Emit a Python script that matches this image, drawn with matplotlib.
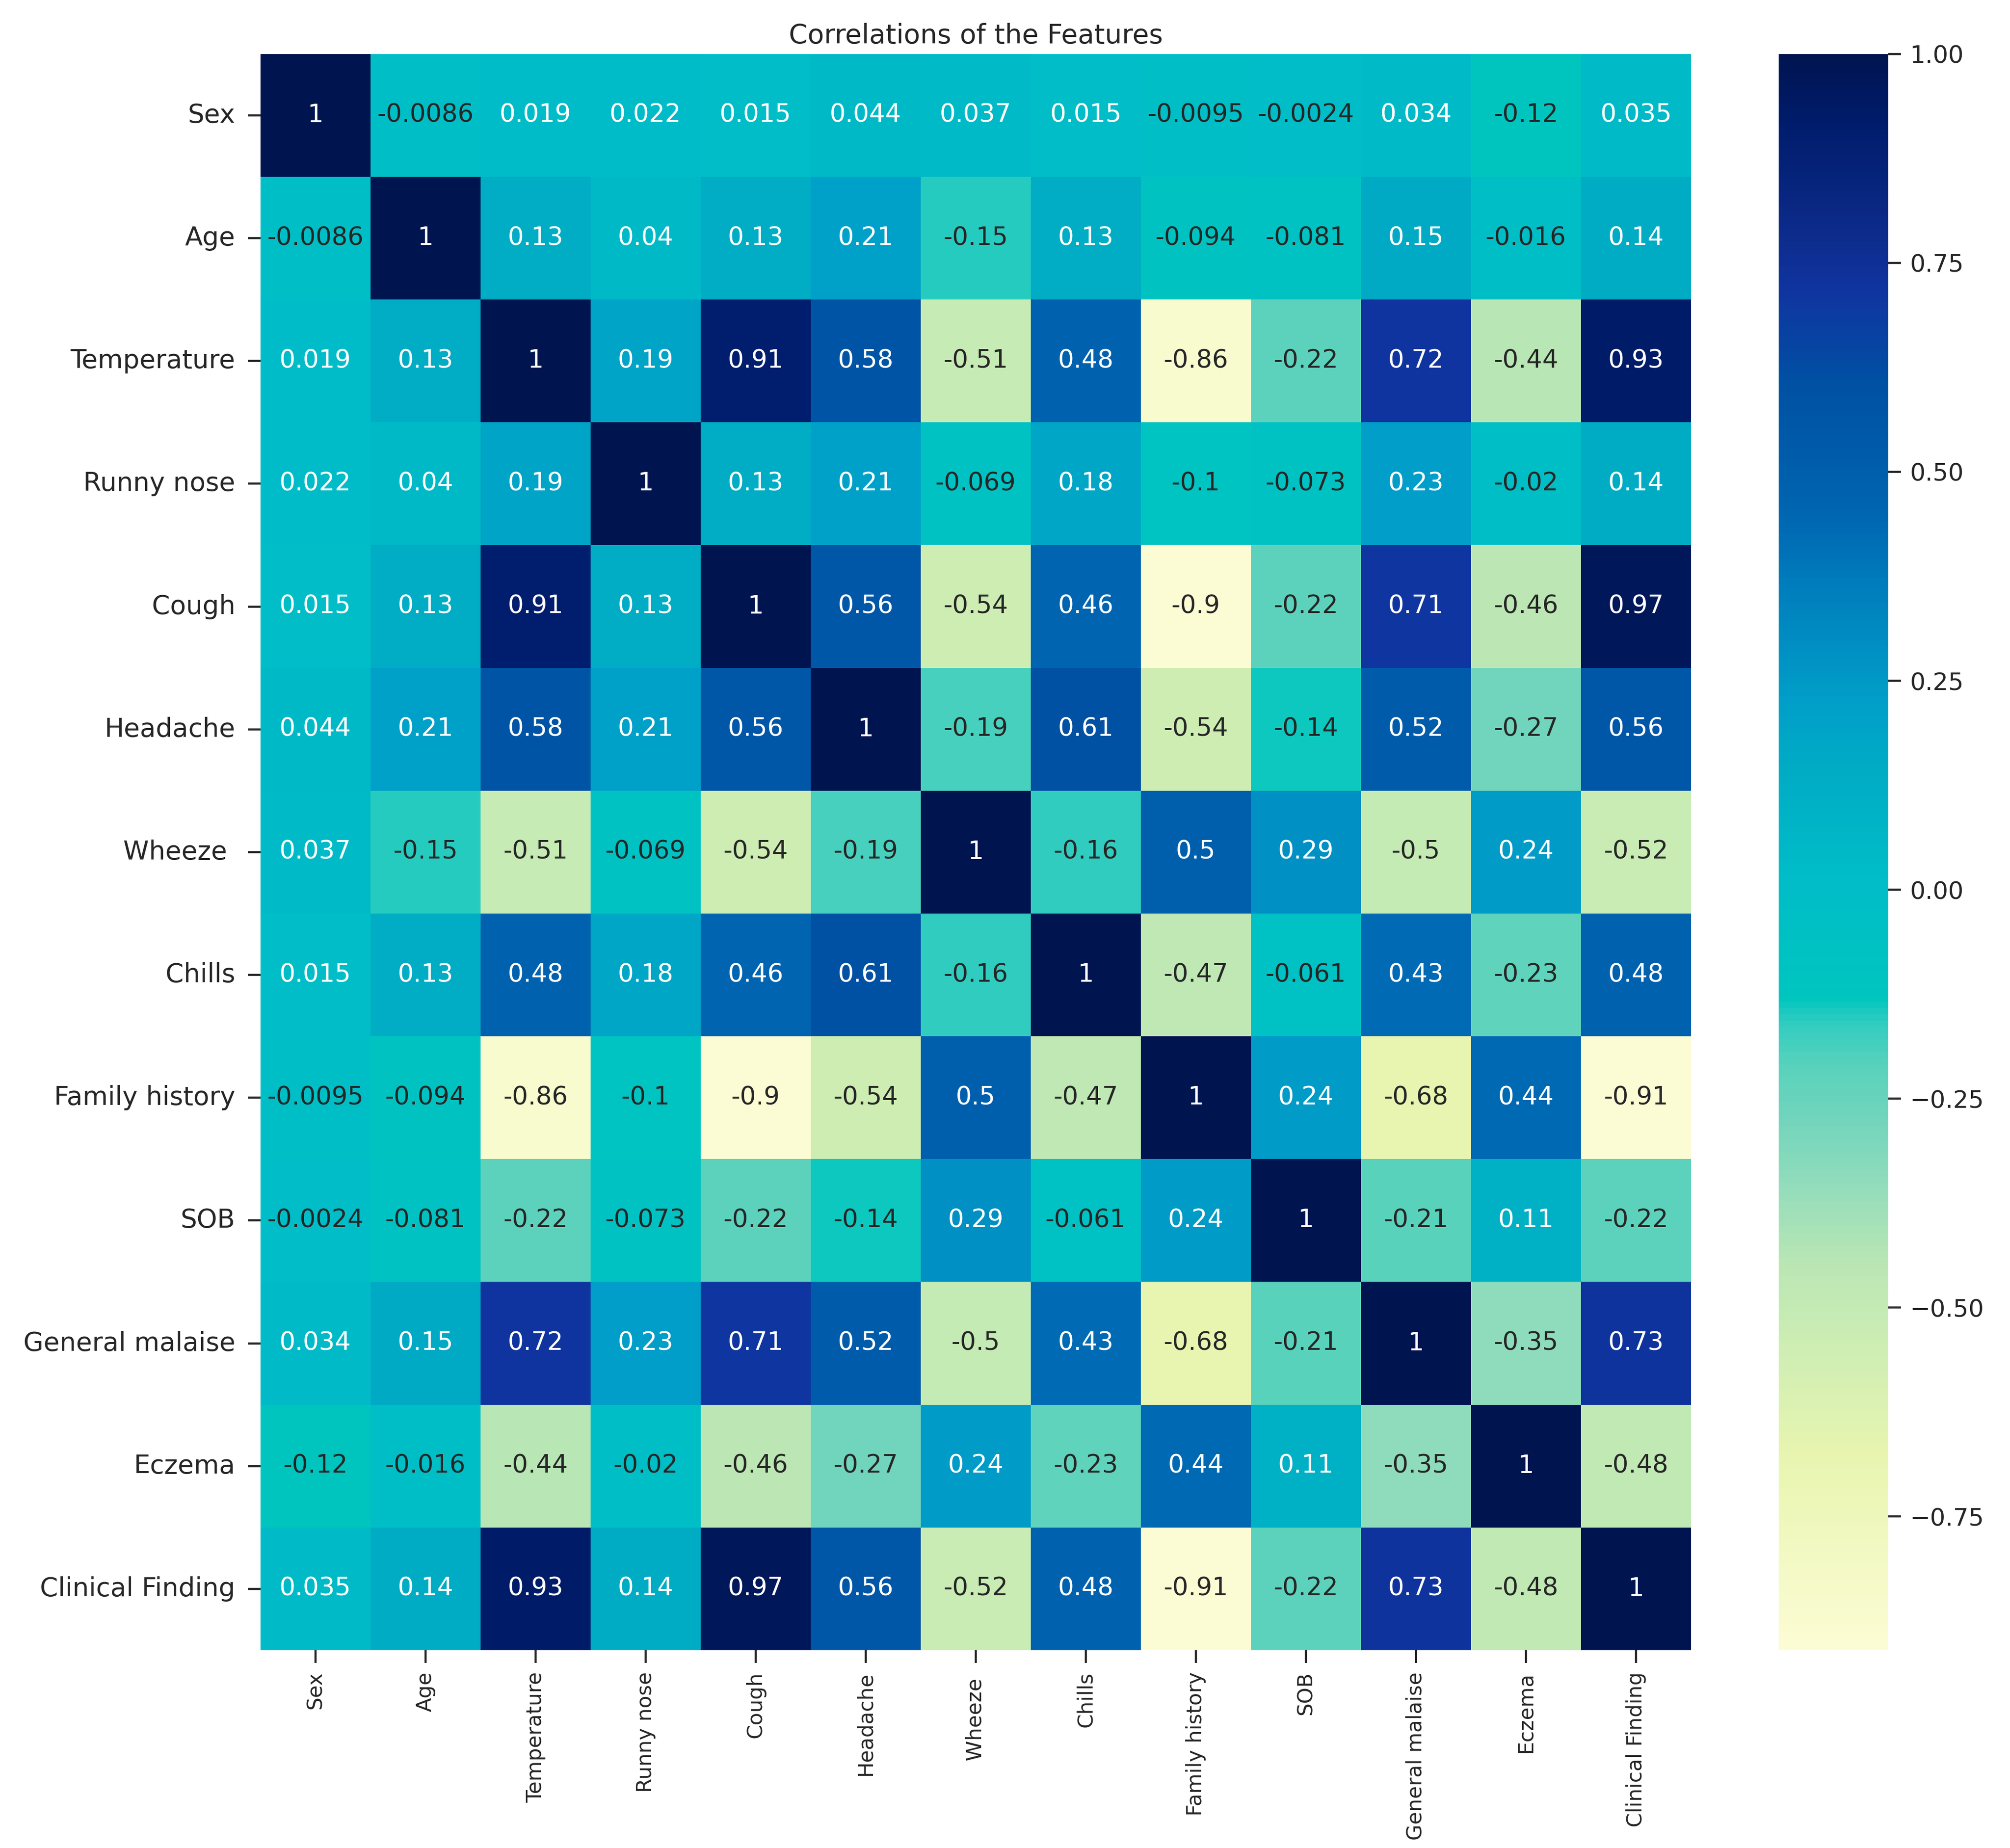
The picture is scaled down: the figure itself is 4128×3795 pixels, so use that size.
import numpy as np
import matplotlib
matplotlib.use("Agg")
import matplotlib.pyplot as plt
import seaborn as sns
from matplotlib.colors import LinearSegmentedColormap

# ---------------- data ----------------
features = ["Sex", "Age", "Temperature", "Runny nose", "Cough", "Headache",
            "Wheeze ", "Chills", "Family history", "SOB", "General malaise",
            "Eczema", "Clinical Finding"]

sex        = [1, -0.0086, 0.019, 0.022, 0.015, 0.044, 0.037, 0.015, -0.0095, -0.0024, 0.034, -0.12, 0.035]
age        = [-0.0086, 1, 0.13, 0.04, 0.13, 0.21, -0.15, 0.13, -0.094, -0.081, 0.15, -0.016, 0.14]
temperature= [0.019, 0.13, 1, 0.19, 0.91, 0.58, -0.51, 0.48, -0.86, -0.22, 0.72, -0.44, 0.93]
runny_nose = [0.022, 0.04, 0.19, 1, 0.13, 0.21, -0.069, 0.18, -0.1, -0.073, 0.23, -0.02, 0.14]
cough      = [0.015, 0.13, 0.91, 0.13, 1, 0.56, -0.54, 0.46, -0.9, -0.22, 0.71, -0.46, 0.97]
headache   = [0.044, 0.21, 0.58, 0.21, 0.56, 1, -0.19, 0.61, -0.54, -0.14, 0.52, -0.27, 0.56]
wheeze     = [0.037, -0.15, -0.51, -0.069, -0.54, -0.19, 1, -0.16, 0.5, 0.29, -0.5, 0.24, -0.52]
chills     = [0.015, 0.13, 0.48, 0.18, 0.46, 0.61, -0.16, 1, -0.47, -0.061, 0.43, -0.23, 0.48]
family_hist= [-0.0095, -0.094, -0.86, -0.1, -0.9, -0.54, 0.5, -0.47, 1, 0.24, -0.68, 0.44, -0.91]
sob        = [-0.0024, -0.081, -0.22, -0.073, -0.22, -0.14, 0.29, -0.061, 0.24, 1, -0.21, 0.11, -0.22]
malaise    = [0.034, 0.15, 0.72, 0.23, 0.71, 0.52, -0.5, 0.43, -0.68, -0.21, 1, -0.35, 0.73]
eczema     = [-0.12, -0.016, -0.44, -0.02, -0.46, -0.27, 0.24, -0.23, 0.44, 0.11, -0.35, 1, -0.48]
clinical   = [0.035, 0.14, 0.93, 0.14, 0.97, 0.56, -0.52, 0.48, -0.91, -0.22, 0.73, -0.48, 1]

corr = np.array([sex, age, temperature, runny_nose, cough, headache, wheeze,
                 chills, family_hist, sob, malaise, eczema, clinical])

# ---------------- style ----------------
sns.set_style("ticks")
plt.rcParams['font.family'] = ['DejaVu Sans']

# saturated YlGnBu-like colormap as in the picture
cmap_stops = [
    (0.000, "#fcfcd4"), (0.120, "#e8f5b0"), (0.204, "#c8ecb4"), (0.241, "#bae6b4"),
    (0.293, "#90dcbc"), (0.335, "#70d4bc"), (0.366, "#58d2bc"), (0.393, "#30ccc0"),
    (0.408, "#00c6bf"), (0.450, "#00c0c4"), (0.487, "#00bcc8"), (0.550, "#00acc4"),
    (0.592, "#00a0c8"), (0.628, "#0090c4"), (0.712, "#0066b2"), (0.764, "#0058a8"),
    (0.796, "#0050a4"), (0.853, "#1034a0"), (0.895, "#0c2a88"), (0.958, "#001c6c"),
    (1.000, "#001450"),
]
cmap = LinearSegmentedColormap.from_list("ylgnbu_sat", cmap_stops)

fig = plt.figure(figsize=(4128 / 265, 3795 / 265), dpi=265)
ax = fig.add_axes([0.1295, 0.107, 0.8413 - 0.1295, 0.9708 - 0.107])
cax = fig.add_axes([0.885, 0.107, 0.9395 - 0.885, 0.9708 - 0.107])

sns.heatmap(corr, annot=True, fmt=".2g", cmap=cmap, ax=ax, cbar_ax=cax,
            xticklabels=features, yticklabels=features,
            annot_kws={"fontsize": 14})

vals = corr.flatten()
for t, v in zip(ax.texts, vals):
    t.set_color(".15" if v < 0 else "white")

ax.set_title("Correlations of the Features", fontsize=15, color=".15", pad=6)
ax.tick_params(axis="both", length=7, width=1.2, color=".15")
ax.tick_params(axis="y", labelsize=14.5, pad=7, rotation=0)
ax.tick_params(axis="x", labelsize=11.5, pad=5, rotation=90)

cax.tick_params(length=7, width=1.2, pad=5, labelsize=13.5, color=".15")

fig.savefig("out.png", dpi=265)
